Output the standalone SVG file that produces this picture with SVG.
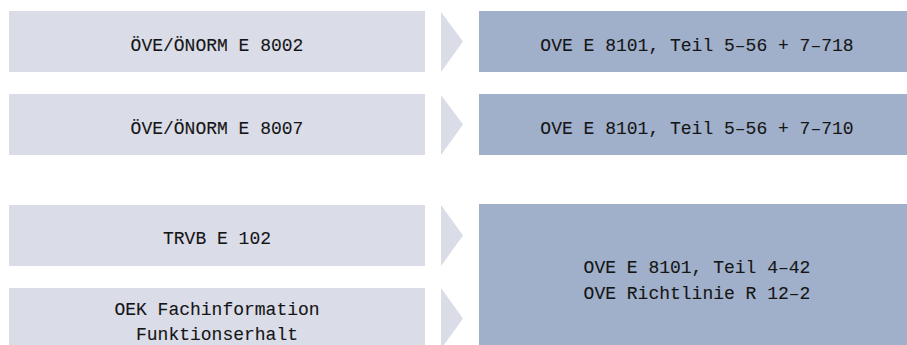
<svg xmlns="http://www.w3.org/2000/svg" width="907" height="345" viewBox="0 0 907 345">
<style>
.src{fill:#dadce8}
.dst{fill:#a0b0ca}
.arr{fill:#dadce8}
text{font-family:"Liberation Mono","DejaVu Sans Mono",monospace;font-size:18px;fill:#151515;stroke:#151515;stroke-width:0.1;text-anchor:middle}
</style>
<rect width="907" height="345" fill="#ffffff"/>
<g id="n1"><rect class="src" x="9" y="11" width="416" height="61"/><text x="217" y="51">ÖVE/ÖNORM E 8002</text></g>
<g id="n2"><rect class="src" x="9" y="94" width="416" height="61"/><text x="217" y="134">ÖVE/ÖNORM E 8007</text></g>
<g id="n3"><rect class="src" x="9" y="205" width="416" height="61"/><text x="217" y="244">TRVB E 102</text></g>
<g id="n4"><rect class="src" x="9" y="288" width="416" height="61"/><text x="217" y="315">OEK Fachinformation</text><text x="217" y="340">Funktionserhalt</text></g>
<g id="r1"><rect class="dst" x="479" y="11" width="428" height="61"/><text x="697" y="51">OVE E 8101, Teil 5–56 + 7–718</text></g>
<g id="r2"><rect class="dst" x="479" y="94" width="428" height="61"/><text x="697" y="134">OVE E 8101, Teil 5–56 + 7–710</text></g>
<g id="r3"><rect class="dst" x="479" y="204" width="428" height="145"/><text x="697" y="273">OVE E 8101, Teil 4–42</text><text x="697" y="299">OVE Richtlinie R 12–2</text></g>
<g id="connectors">
<polygon class="arr" points="441,12 463,41.5 441,72"/>
<polygon class="arr" points="441,95 463,124.5 441,155"/>
<polygon class="arr" points="441,205 463,235.5 441,266"/>
<polygon class="arr" points="441,288 463,318.5 441,349"/>
</g>
</svg>
